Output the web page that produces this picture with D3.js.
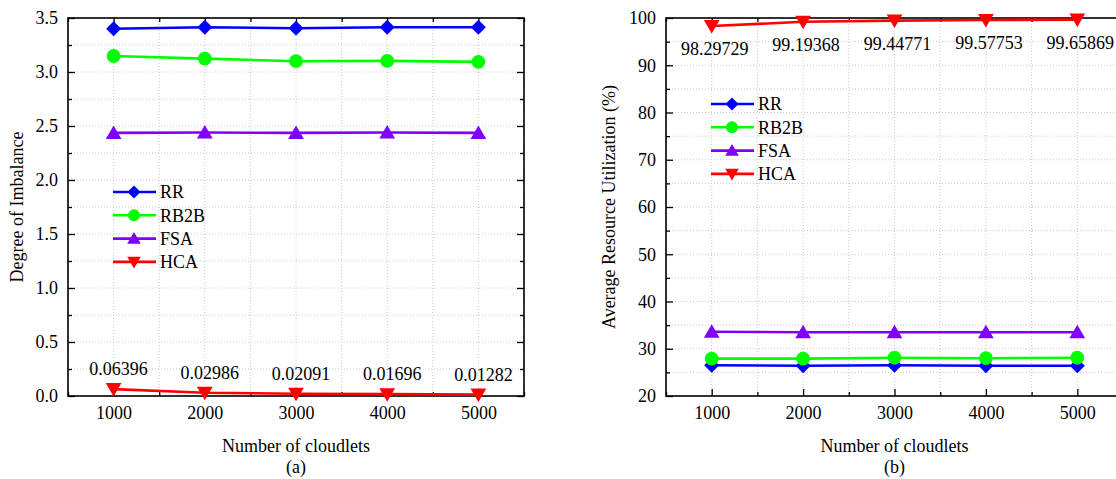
<!DOCTYPE html>
<meta charset="utf-8">
<script src="https://d3js.org/d3.v7.min.js"></script>
<style>
  body { margin: 0; background: #fff; }
</style>
<div id="my_dataviz"></div>
<script>

// data
var cloudlets = [1000, 2000, 3000, 4000, 5000];
var seriesNames = ["RR", "RB2B", "FSA", "HCA"];

var imbRR   = [3.40, 3.415, 3.405, 3.415, 3.415];
var imbRB2B = [3.148, 3.124, 3.10, 3.103, 3.094];
var imbFSA  = [2.436, 2.44, 2.436, 2.44, 2.436];
var imbHCA  = [0.06396, 0.02986, 0.02091, 0.01696, 0.01282];
var imbLabels = ["0.06396", "0.02986", "0.02091", "0.01696", "0.01282"];

var utilRR   = [26.5, 26.4, 26.5, 26.4, 26.4];
var utilRB2B = [27.9, 27.9, 28.1, 28.0, 28.1];
var utilFSA  = [33.6, 33.5, 33.5, 33.5, 33.5];
var utilHCA  = [98.29729, 99.19368, 99.44771, 99.57753, 99.65869];
var utilLabels = ["98.29729", "99.19368", "99.44771", "99.57753", "99.65869"];

var yTicksA = [0, 0.5, 1.0, 1.5, 2.0, 2.5, 3.0, 3.5];
var yTicksB = [20, 30, 40, 50, 60, 70, 80, 90, 100];

var colors = {RR: "#0000ff", RB2B: "#00ff00", FSA: "#8000ff", HCA: "#ff0000"};
var FONT = "'Liberation Serif'";

var W = 1116, H = 479;
var svg = d3.select("#my_dataviz")
  .append("svg")
    .attr("width", W)
    .attr("height", H);

// marker shapes, Origin style
function symbolPath(name, s) {
  if (name == "RR") return "M0," + (-s) + "L" + s + ",0L0," + s + "L" + (-s) + ",0Z";
  if (name == "RB2B") return d3.symbol().type(d3.symbolCircle).size(Math.PI * s * s * 0.85)();
  if (name == "FSA") return "M0," + (-s) + "L" + (s * 1.05) + "," + (s * 0.8) + "L" + (-s * 1.05) + "," + (s * 0.8) + "Z";
  return "M0," + s + "L" + (s * 1.05) + "," + (-s * 0.8) + "L" + (-s * 1.05) + "," + (-s * 0.8) + "Z";
}

function drawPanel(p) {
  var g = svg.append("g").attr("transform", "translate(" + p.left + "," + p.top + ")");
  var w = p.width, h = p.height;

  var x = d3.scaleLinear().domain([500, 5500]).range([0, w]);
  var y = d3.scaleLinear().domain(p.yDomain).range([h, 0]);

  var xMinor = d3.range(500, 5501, 500);
  var yMinor = d3.range(p.yDomain[0], p.yDomain[1] + p.yMinorStep / 2, p.yMinorStep);

  // dotted grid
  g.append("g").selectAll("line").data(xMinor).enter().append("line")
    .attr("x1", d => x(d)).attr("x2", d => x(d)).attr("y1", 0).attr("y2", h)
    .attr("stroke", "#c8c8c8").attr("stroke-width", 1).attr("stroke-dasharray", "1,2");
  g.append("g").selectAll("line").data(yMinor).enter().append("line")
    .attr("x1", 0).attr("x2", w).attr("y1", d => y(d)).attr("y2", d => y(d))
    .attr("stroke", "#c8c8c8").attr("stroke-width", 1).attr("stroke-dasharray", "1,2");

  // axes, ticks pointing inwards
  var xMinorOnly = xMinor.filter(d => cloudlets.indexOf(d) < 0);
  var yMinorOnly = yMinor.filter(d => p.yTicks.indexOf(+d.toFixed(3)) < 0);

  g.append("g").attr("transform", "translate(0," + h + ")")
    .call(d3.axisBottom(x).tickValues(cloudlets).tickSize(-7).tickPadding(10).tickFormat(d3.format("d")));
  g.append("g").attr("transform", "translate(0," + h + ")")
    .call(d3.axisBottom(x).tickValues(xMinorOnly).tickSize(-4).tickFormat(""));
  g.append("g")
    .call(d3.axisTop(x).tickValues(cloudlets).tickSize(-7).tickFormat(""));
  g.append("g")
    .call(d3.axisTop(x).tickValues(xMinorOnly).tickSize(-4).tickFormat(""));

  g.append("g")
    .call(d3.axisLeft(y).tickValues(p.yTicks).tickSize(-7).tickPadding(10).tickFormat(p.yFormat));
  g.append("g")
    .call(d3.axisLeft(y).tickValues(yMinorOnly).tickSize(-4).tickFormat(""));
  g.append("g").attr("transform", "translate(" + w + ",0)")
    .call(d3.axisRight(y).tickValues(p.yTicks).tickSize(-7).tickFormat(""));
  g.append("g").attr("transform", "translate(" + w + ",0)")
    .call(d3.axisRight(y).tickValues(yMinorOnly).tickSize(-4).tickFormat(""));

  g.selectAll(".domain").remove();
  g.selectAll(".tick line").attr("stroke", "#000").attr("stroke-width", 1.3);
  g.selectAll(".tick text").style("font-size", "18px").style("font-family", FONT);

  g.append("rect").attr("width", w).attr("height", h)
    .attr("fill", "none").attr("stroke", "#000").attr("stroke-width", 1.6);

  // series
  var line = d3.line().x((d, i) => x(cloudlets[i])).y(d => y(d));
  p.series.forEach(function(s) {
    g.append("path").datum(s.values)
      .attr("fill", "none").attr("stroke", colors[s.name]).attr("stroke-width", 2.6)
      .attr("d", line);
    g.append("g").selectAll("path").data(s.values).enter().append("path")
      .attr("transform", (d, i) => "translate(" + x(cloudlets[i]) + "," + y(d) + ")")
      .attr("d", symbolPath(s.name, 7.5))
      .attr("fill", colors[s.name]);
  });

  // value labels of HCA
  g.append("g").selectAll("text").data(p.labels).enter().append("text")
    .attr("x", (d, i) => x(cloudlets[i]) + p.labelDx)
    .attr("y", (d, i) => y(p.series[3].values[i]) + p.labelDy)
    .attr("text-anchor", "middle")
    .style("font-family", FONT).style("font-size", "18px")
    .text(d => d);

  // legend
  var lg = g.append("g").attr("transform", "translate(0," + p.legendTop + ")");
  seriesNames.forEach(function(n, i) {
    var ly = i * 23.3;
    lg.append("line").attr("x1", 45).attr("x2", 88).attr("y1", ly).attr("y2", ly)
      .attr("stroke", colors[n]).attr("stroke-width", 2.6);
    lg.append("path").attr("transform", "translate(66," + ly + ")")
      .attr("d", symbolPath(n, 6.5)).attr("fill", colors[n]);
    lg.append("text").attr("x", 92).attr("y", ly).attr("dy", "0.35em")
      .style("font-family", FONT).style("font-size", "18px").text(n);
  });

  // titles
  g.append("text")
    .attr("x", w / 2).attr("y", h + 56)
    .attr("text-anchor", "middle").style("font-family", FONT).style("font-size", "18px")
    .text("Number of cloudlets");
  g.append("text")
    .attr("x", w / 2).attr("y", h + 77)
    .attr("text-anchor", "middle").style("font-family", FONT).style("font-size", "18px")
    .text(p.caption);
  g.append("text")
    .attr("transform", "translate(" + p.yTitleX + "," + (h / 2) + ") rotate(-90)")
    .attr("text-anchor", "middle").attr("dy", "0.35em")
    .style("font-family", FONT).style("font-size", "18px")
    .text(p.yTitle);
}

drawPanel({
  left: 68, top: 18, width: 456, height: 378,
  yDomain: [0, 3.5], yTicks: yTicksA, yMinorStep: 0.25, yFormat: d3.format(".1f"),
  series: [
    {name: "RR", values: imbRR},
    {name: "RB2B", values: imbRB2B},
    {name: "FSA", values: imbFSA},
    {name: "HCA", values: imbHCA}
  ],
  labels: imbLabels, labelDx: 5, labelDy: -14,
  legendTop: 174,
  yTitle: "Degree of Imbalance", yTitleX: -51,
  caption: "(a)"
});

drawPanel({
  left: 666, top: 18, width: 457, height: 378,
  yDomain: [20, 100], yTicks: yTicksB, yMinorStep: 5, yFormat: d3.format("d"),
  series: [
    {name: "RR", values: utilRR},
    {name: "RB2B", values: utilRB2B},
    {name: "FSA", values: utilFSA},
    {name: "HCA", values: utilHCA}
  ],
  labels: utilLabels, labelDx: 3, labelDy: 29,
  legendTop: 86,
  yTitle: "Average Resource Utilization (%)", yTitleX: -57,
  caption: "(b)"
});

</script>
